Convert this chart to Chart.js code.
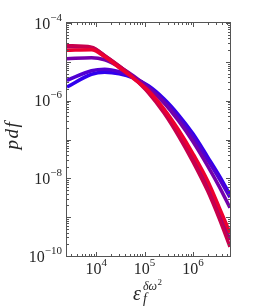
<!DOCTYPE html>
<html>
<head>
<meta charset="utf-8">
<script src="https://cdn.jsdelivr.net/npm/chart.js"></script>
<style>
  html, body { margin: 0; padding: 0; background: #fff; }
</style>
</head>
<body>
<canvas id="mycanvas" width="254" height="307"></canvas>
<script>
// x values (epsilon_f) shared by all curves
var eps = [2500, 8000, 15000, 30000, 60000, 120000, 250000, 500000, 1e6, 2e6, 3.5e6, 5.8e6];

// pdf curves
var pdfRed     = [1.99e-5, 2.05e-5, 1.35e-5, 7.05e-6, 3.66e-6, 1.80e-6, 6.18e-7, 1.78e-7, 4.28e-8, 8.61e-9, 1.74e-9, 3.94e-10];
var pdfCrimson = [2.60e-5, 2.38e-5, 1.44e-5, 7.71e-6, 3.78e-6, 1.60e-6, 4.89e-7, 1.25e-7, 2.66e-8, 4.76e-9, 9.04e-10, 1.72e-10];
var pdfMagenta = [2.45e-5, 2.31e-5, 1.44e-5, 7.71e-6, 3.89e-6, 1.69e-6, 5.50e-7, 1.49e-7, 3.37e-8, 6.41e-9, 1.25e-9, 2.60e-10];
var pdfPurple  = [1.20e-5, 1.28e-5, 1.13e-5, 7.48e-6, 4.26e-6, 2.15e-6, 8.83e-7, 3.03e-7, 8.73e-8, 2.10e-8, 6.04e-9, 1.74e-9];
var pdfIndigo  = [3.32e-6, 5.90e-6, 6.45e-6, 5.56e-6, 3.89e-6, 2.28e-6, 9.93e-7, 3.73e-7, 1.17e-7, 3.00e-8, 9.70e-9, 3.24e-9];
var pdfBlue    = [2.24e-6, 4.79e-6, 5.40e-6, 4.93e-6, 3.78e-6, 2.42e-6, 1.12e-6, 4.34e-7, 1.40e-7, 3.58e-8, 1.16e-8, 3.76e-9];

// tick labels
var xTickVals = [1e4, 1e5, 1e6];
var xTickExps = ['4', '5', '6'];
var yTickVals = [1e-4, 1e-6, 1e-8, 1e-10];
var yTickExps = ['\u22124', '\u22126', '\u22128', '\u221210'];

var serif = "'Liberation Serif', 'DejaVu Serif', serif";
var txtColor = '#262626';
var axColor = '#555555';

function pts(ys) {
  var out = [];
  for (var i in eps) out.push({ x: eps[i], y: ys[i] });
  return out;
}

function ds(ys, col) {
  return { data: pts(ys), borderColor: col, backgroundColor: col, borderWidth: 3.5,
           pointRadius: 0, fill: false, cubicInterpolationMode: 'monotone' };
}

// first dataset is drawn on top
var chartdata = {
  datasets: [
    ds(pdfRed, '#ec0030'),
    ds(pdfCrimson, '#c8004c'),
    ds(pdfMagenta, '#a00078'),
    ds(pdfPurple, '#7400aa'),
    ds(pdfIndigo, '#5000d2'),
    ds(pdfBlue, '#3000ee')
  ]
};

function powLabel(ctx, exp, x, base, align) {
  ctx.font = '16px ' + serif;
  var wb = ctx.measureText('10').width;
  ctx.font = '11px ' + serif;
  var we = ctx.measureText(exp).width;
  var x0 = align === 'right' ? x - wb - we : x - (wb + we) / 2;
  ctx.textAlign = 'left';
  ctx.textBaseline = 'alphabetic';
  ctx.font = '16px ' + serif;
  ctx.fillText('10', x0, base);
  ctx.font = '11px ' + serif;
  ctx.fillText(exp, x0 + wb, base - 8);
}

var axesPlugin = {
  id: 'axesPlugin',
  afterDraw: function(chart) {
    var ctx = chart.ctx, a = chart.chartArea;
    var xs = chart.scales.x, ys = chart.scales.y;
    ctx.save();
    ctx.strokeStyle = axColor;
    ctx.lineWidth = 1;
    ctx.strokeRect(a.left - 0.5, a.top - 0.5, a.right - a.left + 1, a.bottom - a.top + 1);

    ctx.beginPath();
    var e, m, v, p, len;
    for (e = 3; e <= 6; e++) {
      for (m = 1; m <= 9; m++) {
        v = m * Math.pow(10, e);
        if (v < xs.min || v > xs.max) continue;
        p = Math.round(xs.getPixelForValue(v)) + 0.5;
        len = m === 1 ? 4 : 2;
        ctx.moveTo(p, a.bottom); ctx.lineTo(p, a.bottom - len);
        ctx.moveTo(p, a.top); ctx.lineTo(p, a.top + len);
      }
    }
    for (e = -10; e <= -4; e++) {
      for (m = 1; m <= 9; m++) {
        v = m * Math.pow(10, e);
        if (v < ys.min * 0.999 || v > ys.max * 1.001) continue;
        p = Math.round(ys.getPixelForValue(v)) + 0.5;
        len = m === 1 ? 4 : 2;
        ctx.moveTo(a.left, p); ctx.lineTo(a.left + len, p);
        ctx.moveTo(a.right, p); ctx.lineTo(a.right - len, p);
      }
    }
    ctx.stroke();

    ctx.fillStyle = txtColor;
    var i;
    for (i = 0; i < yTickVals.length; i++) {
      p = ys.getPixelForValue(yTickVals[i]);
      powLabel(ctx, yTickExps[i], a.left - 5, p + 5.5, 'right');
    }
    for (i = 0; i < xTickVals.length; i++) {
      p = xs.getPixelForValue(xTickVals[i]);
      powLabel(ctx, xTickExps[i], p, a.bottom + 18, 'center');
    }

    // y title
    ctx.save();
    ctx.translate(13, 135);
    ctx.rotate(-Math.PI / 2);
    ctx.textAlign = 'center';
    ctx.textBaseline = 'middle';
    ctx.font = 'italic 19px ' + serif;
    ctx.letterSpacing = '1.5px';
    ctx.fillText('pdf', 0, 0);
    ctx.restore();

    // x title: epsilon_f^{delta omega^2}
    ctx.textAlign = 'left';
    ctx.textBaseline = 'alphabetic';
    ctx.font = 'italic 20px ' + serif;
    ctx.fillText('\u03b5', 133, 300);
    ctx.font = 'italic 14px ' + serif;
    ctx.fillText('f', 143, 303);
    ctx.font = 'italic 12px ' + serif;
    ctx.fillText('\u03b4\u03c9', 143, 290);
    var w = ctx.measureText('\u03b4\u03c9').width;
    ctx.font = '9px ' + serif;
    ctx.fillText('2', 143 + w + 0.5, 285);
    ctx.restore();
  }
};

var ctx = document.getElementById('mycanvas');
var chart = new Chart(ctx, {
  type: 'line',
  data: chartdata,
  options: {
    responsive: false,
    animation: false,
    layout: { padding: { left: 67, right: 24, top: 23, bottom: 51 } },
    plugins: { legend: { display: false }, tooltip: { enabled: false } },
    scales: {
      x: { type: 'logarithmic', min: 2500, max: 5.8e6, display: false },
      y: { type: 'logarithmic', min: 1e-10, max: 1e-4, display: false }
    }
  },
  plugins: [axesPlugin]
});
</script>
</body>
</html>
